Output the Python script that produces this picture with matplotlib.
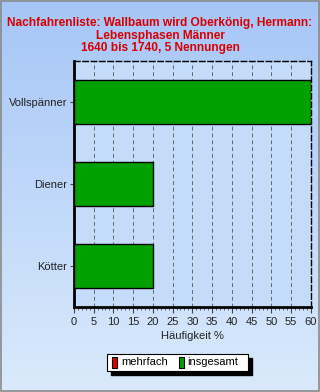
import numpy as np
import matplotlib.pyplot as plt
from matplotlib.patches import Rectangle

plt.rcParams['font.family'] = ['Liberation Sans', 'DejaVu Sans']

categories = ['Vollspänner', 'Diener', 'Kötter']
insgesamt = [60, 20, 20]
mehrfach = [0, 0, 0]
xticks = list(range(0, 61, 5))
title = 'Nachfahrenliste: Wallbaum wird Oberkönig, Hermann:\nLebensphasen Männer\n1640 bis 1740, 5 Nennungen'

fig = plt.figure(figsize=(3.2, 3.92), dpi=100)

# background gradient
bg = fig.add_axes([0, 0, 1, 1], zorder=-10)
top = np.array([166, 198, 247]) / 255
bot = np.array([218, 234, 252]) / 255
t = np.linspace(0, 1, 256)[:, None]
grad = (top * (1 - t) + bot * t)[:, None, :]
bg.imshow(grad, aspect='auto', extent=[0, 1, 0, 1])
bg.add_patch(Rectangle((0.002, 0.002), 0.995, 0.995, fill=False, ec='#8a8a8a', lw=1.2))
bg.set_xlim(0, 1)
bg.set_ylim(0, 1)
bg.axis('off')

ax = fig.add_axes([0.231, 0.217, 0.740, 0.628])
ax.set_facecolor('#c4dcfa')
y = np.arange(len(categories))[::-1]
ax.barh(y, insgesamt, height=0.53, color='#00a000', edgecolor='black', lw=1, zorder=3)

ax.set_xlim(0, 60)
ax.set_ylim(-0.5, 2.5)
ax.set_yticks(y)
ax.set_yticklabels(categories, fontsize=8, color='#222222')
ax.set_xticks(xticks)
ax.set_xticklabels([str(v) for v in xticks], fontsize=8, color='#222222')
ax.set_xticks(range(0, 61), minor=True)
ax.tick_params(axis='x', which='major', length=4, width=0.8, color='#444444', pad=3)
ax.tick_params(axis='x', which='minor', length=2, width=0.6, color='#444444')
ax.tick_params(axis='y', length=3, width=0.8, color='#444444', pad=2)
ax.grid(axis='x', ls=(0, (4, 3)), color='#666666', lw=0.7, zorder=1)

for s in ['left', 'bottom']:
    ax.spines[s].set_linewidth(2)
for s in ['top', 'right']:
    ax.spines[s].set_linewidth(1)
    ax.spines[s].set_linestyle((0, (4, 2)))

ax.set_xlabel('Häufigkeit %', fontsize=8, labelpad=3, color='#222222')

fig.text(0.5, 0.957, title, ha='center', va='top', color='#d80000',
         fontsize=8.6, fontweight='bold', linespacing=1.08)

# legend
fig.patches.append(Rectangle((0.346, 0.044), 0.44, 0.043, transform=fig.transFigure,
                             fc='black', ec='black', zorder=1))
fig.patches.append(Rectangle((0.334, 0.054), 0.44, 0.043, transform=fig.transFigure,
                             fc='white', ec='black', lw=0.8, zorder=2))
labels = ['mehrfach', 'insgesamt']
colors = ['#e00000', '#00a000']
xs = [0.350, 0.558]
for lx, lab, c in zip(xs, labels, colors):
    fig.patches.append(Rectangle((lx, 0.062), 0.016, 0.027, transform=fig.transFigure,
                                 fc=c, ec='black', lw=0.8, zorder=3))
    fig.text(lx + 0.028, 0.076, lab, fontsize=8, va='center', ha='left', zorder=4)

fig.savefig('out.png', dpi=100)
